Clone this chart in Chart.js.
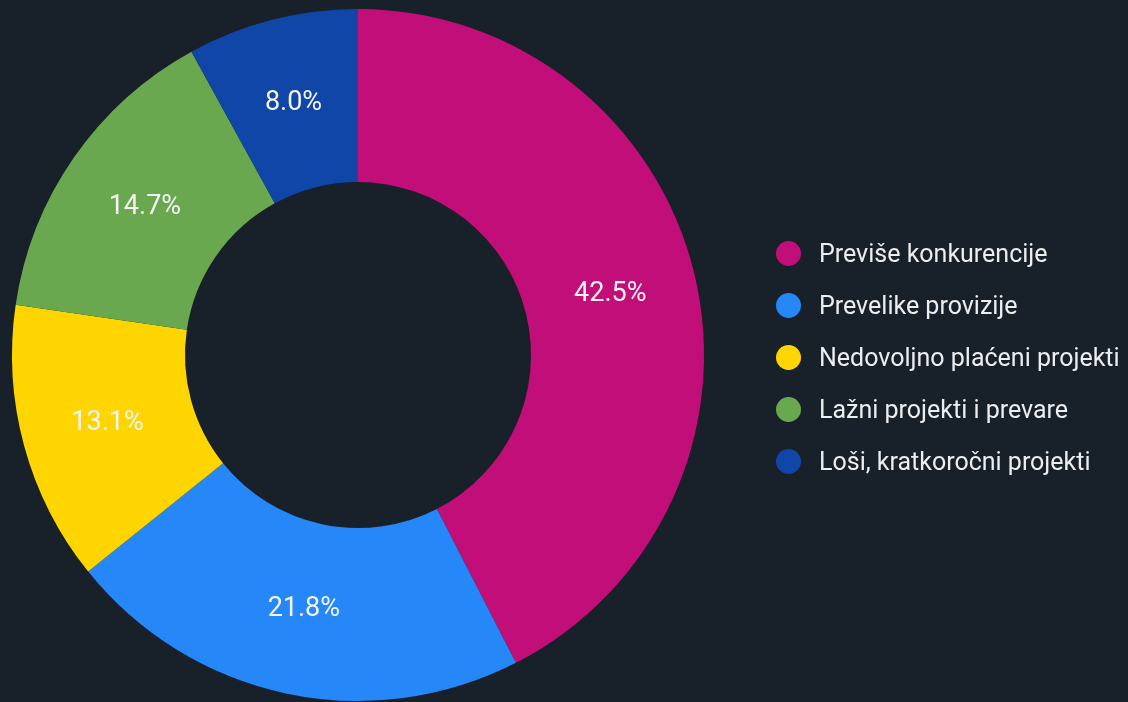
<!DOCTYPE html>
<html>
<head>
<meta charset="utf-8">
<script src="https://cdn.jsdelivr.net/npm/chart.js@4/dist/chart.umd.min.js"></script>
<style>
  html, body { margin: 0; padding: 0; background: #18202a; }
  #wrap { position: relative; width: 1128px; height: 702px; background: #18202a; overflow: hidden; }
  #c { position: absolute; left: 0; top: 0; }
  #legend { position: absolute; left: 776px; top: 0; font-family: Roboto, sans-serif; font-size: 25px; color: #eceef0; }
  .item { position: absolute; left: 0; height: 30px; white-space: nowrap; display: flex; align-items: center; }
  .dot { width: 25px; height: 25px; border-radius: 50%; margin-right: 18px; flex: none; }
</style>
</head>
<body>
<div id="wrap">
  <canvas id="c" width="1128" height="702"></canvas>
  <div id="legend"></div>
</div>
<script>
const categories = [
  'Previše konkurencije',
  'Prevelike provizije',
  'Nedovoljno plaćeni projekti',
  'Lažni projekti i prevare',
  'Loši, kratkoročni projekti'
];
const values = [42.5, 21.8, 13.1, 14.7, 8.0];
const colors = ['#c20e78', '#2587f8', '#ffd500', '#6aa84f', '#0f46a8'];

// HTML legend
const legendEl = document.getElementById('legend');
categories.forEach((name, i) => {
  const it = document.createElement('div');
  it.className = 'item';
  it.style.top = (238 + i * 52) + 'px';
  const d = document.createElement('span');
  d.className = 'dot';
  d.style.background = colors[i];
  const t = document.createElement('span');
  t.textContent = name;
  it.appendChild(d);
  it.appendChild(t);
  legendEl.appendChild(it);
});

const labelPlugin = {
  id: 'sliceLabels',
  afterDatasetsDraw(chart) {
    const ctx = chart.ctx;
    const meta = chart.getDatasetMeta(0);
    ctx.save();
    ctx.font = '27px Roboto, sans-serif';
    ctx.fillStyle = '#f4f4f6';
    ctx.textAlign = 'center';
    ctx.textBaseline = 'middle';
    meta.data.forEach((arc, i) => {
      const p = arc.tooltipPosition();
      ctx.fillText(chart.data.datasets[0].data[i].toFixed(1) + '%', p.x, p.y);
    });
    ctx.restore();
  }
};

new Chart(document.getElementById('c'), {
  type: 'doughnut',
  data: {
    labels: categories,
    datasets: [{
      data: values,
      backgroundColor: colors,
      borderWidth: 0
    }]
  },
  options: {
    responsive: false,
    animation: false,
    cutout: '50%',
    layout: { padding: { left: 12, right: 424, top: 9, bottom: 1 } },
    plugins: {
      legend: { display: false },
      tooltip: { enabled: false }
    }
  },
  plugins: [labelPlugin]
});
</script>
</body>
</html>
